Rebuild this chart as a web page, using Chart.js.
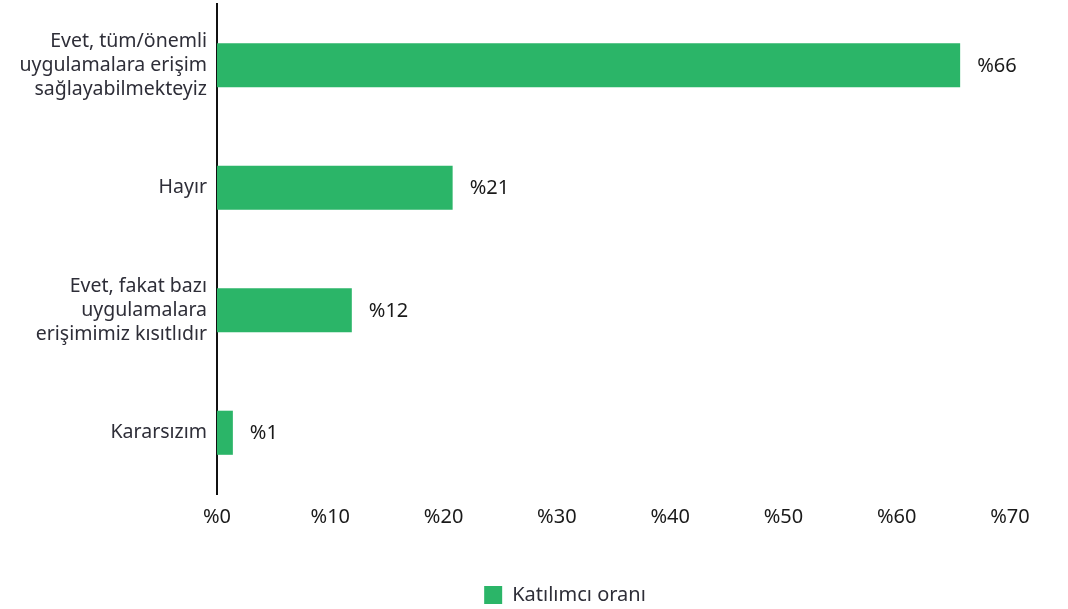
<!DOCTYPE html>
<html lang="tr">
<head>
    <meta charset="UTF-8">
    <title>Katılımcı oranı</title>
    <script src="https://cdn.jsdelivr.net/npm/chart.js"></script>
    <style>
        body { margin: 0; background: #fff; }
        #wrap { width: 1068px; height: 609px; }
    </style>
</head>
<body>
    <div id="wrap"><canvas id="myChart"></canvas></div>

    <script>
        // answers (multi-line labels as arrays)
        const categories = [
            ['Evet, tüm/önemli', 'uygulamalara erişim', 'sağlayabilmekteyiz'],
            'Hayır',
            ['Evet, fakat bazı', 'uygulamalara', 'erişimimiz kısıtlıdır'],
            'Kararsızım'
        ];
        const shares = [65.6, 20.8, 11.9, 1.4];
        const xTicks = [0, 10, 20, 30, 40, 50, 60, 70];
        const seriesName = 'Katılımcı oranı';

        const green = '#2bb568';
        const fontFamily = "'Noto Sans', sans-serif";

        // writes "%NN" just past the end of each bar
        const valueLabels = {
            id: 'valueLabels',
            afterDatasetsDraw(chart) {
                const ctx = chart.ctx;
                const meta = chart.getDatasetMeta(0);
                ctx.save();
                ctx.font = '20px ' + fontFamily;
                ctx.fillStyle = '#1a1a1a';
                ctx.textAlign = 'left';
                ctx.textBaseline = 'middle';
                meta.data.forEach((bar, i) => {
                    ctx.fillText('%' + Math.round(shares[i]), bar.x + 17, bar.y + 1);
                });
                ctx.restore();
            }
        };

        // nudge the legend a bit right and down from its default slot
        const legendOffset = {
            id: 'legendOffset',
            afterLayout(chart) {
                const lg = chart.legend;
                lg.left += 60;
                lg.right += 60;
                lg.top += 6;
                lg.bottom += 6;
            }
        };

        const ctx = document.getElementById('myChart').getContext('2d');
        new Chart(ctx, {
            type: 'bar',
            data: {
                labels: categories,
                datasets: [{
                    label: seriesName,
                    data: shares,
                    backgroundColor: green,
                    borderWidth: 0,
                    barPercentage: 0.36,
                    categoryPercentage: 1
                }]
            },
            options: {
                indexAxis: 'y',
                responsive: true,
                maintainAspectRatio: false,
                animation: false,
                layout: { padding: { top: 4, left: 0, right: 58, bottom: 0 } },
                scales: {
                    x: {
                        min: 0,
                        max: 70,
                        afterBuildTicks: axis => { axis.ticks = xTicks.map(v => ({ value: v })); },
                        grid: { display: false, drawTicks: false },
                        border: { display: false },
                        ticks: {
                            padding: 11,
                            color: '#1a1a1a',
                            font: { family: fontFamily, size: 20 },
                            callback: v => '%' + v
                        },
                        afterFit: axis => { axis.height = 77; }
                    },
                    y: {
                        grid: { display: false, drawTicks: false },
                        border: { display: true, color: '#111', width: 2 },
                        ticks: {
                            padding: 10,
                            color: '#2e2e38',
                            font: { family: fontFamily, size: 19.5, lineHeight: 1.23 }
                        },
                        afterFit: axis => {
                            axis.width = 217;
                            axis.paddingTop = 0;
                            axis.paddingBottom = 0;
                        }
                    }
                },
                plugins: {
                    legend: {
                        position: 'bottom',
                        labels: {
                            boxWidth: 18,
                            boxHeight: 18,
                            padding: 8,
                            color: '#2e2e38',
                            font: { family: fontFamily, size: 20 }
                        }
                    },
                    tooltip: { enabled: false }
                }
            },
            plugins: [valueLabels, legendOffset]
        });
    </script>
</body>
</html>
